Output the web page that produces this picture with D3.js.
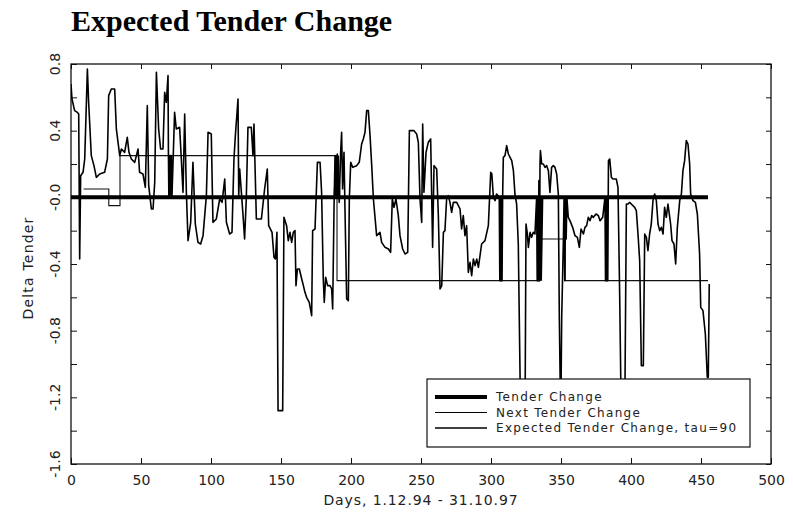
<!DOCTYPE html>
<html>
<head>
<meta charset="utf-8">
<script src="https://cdn.jsdelivr.net/npm/d3@7"></script>
<style>
body { margin: 0; background: #fff; }
text { font-family: "DejaVu Sans", sans-serif; fill: #222; }
</style>
</head>
<body>
<div id="chart"></div>
<script>
// values (days since 1.12.94)
const expDays = [
  0, 0.7, 2.6, 4.5, 5.5, 6.2, 6.9, 8.6, 9.8, 11.7, 12.6, 14.5, 16.4, 18.1, 20.5, 24.0, 26.0, 26.9, 28.8, 31.2,
  32.4, 33.6, 34.8, 36.0, 38.3, 40.2, 41.4, 43.1, 45.5, 47.9, 49.0, 51.4, 53.1, 54.5, 55.5, 57.4, 58.6, 59.8, 61.0, 62.6,
  64.0, 65.7, 66.9, 68.1, 69.3, 69.6, 69.9, 70.3, 70.6, 71.0, 71.3, 71.7, 72.1, 74.0, 75.2, 77.6, 78.8, 80.0, 81.2, 82.4,
  83.6, 85.5, 87.1, 88.8, 90.7, 92.6, 94.3, 96.7, 97.9, 100.2, 101.4, 103.8, 106.2, 107.9, 109.8, 111.0, 113.3, 115.0, 116.4, 117.4,
  119.3, 119.8, 120.5, 121.7, 122.9, 124.0, 125.2, 126.4, 128.8, 130.0, 130.7, 132.4, 136.0, 138.3, 140.2, 141.2, 143.6, 145.0, 146.0, 147.1,
  147.9, 151.2, 152.1, 154.0, 155.2, 156.4, 157.6, 158.8, 160.0, 160.7, 161.7, 163.1, 164.8, 166.0, 167.1, 168.3, 170.2, 171.9, 172.6, 174.3,
  176.0, 177.9, 179.0, 180.2, 180.9, 181.9, 183.3, 185.0, 186.2, 186.9, 187.9, 188.6, 189.3, 190.2, 190.9, 191.6, 192.6, 193.3, 194.0, 195.0,
  195.7, 196.9, 198.1, 198.8, 199.8, 201.2, 204.0, 205.9, 207.6, 208.8, 210.0, 211.2, 212.4, 213.6, 214.8, 216.0, 218.3, 220.7, 221.9, 224.3,
  226.7, 228.3, 229.5, 230.7, 232.1, 233.8, 235.0, 236.9, 238.6, 240.5, 241.7, 243.3, 245.0, 246.9, 248.1, 249.3, 250.5, 251.2, 252.1, 253.6,
  255.2, 256.9, 258.3, 259.3, 261.2, 262.4, 263.6, 264.8, 266.0, 267.1, 268.3, 269.5, 270.7, 271.9, 273.1, 275.5, 277.9, 279.0, 280.2, 281.4,
  282.6, 283.8, 285.0, 286.2, 287.4, 288.6, 289.8, 291.0, 293.3, 295.7, 298.1, 299.8, 300.6, 301.7, 302.9, 304.0, 305.9, 306.3, 306.7, 307.1,
  307.5, 307.9, 308.3, 308.8, 310.0, 311.2, 312.4, 313.6, 314.8, 316.0, 317.1, 318.3, 319.5, 321.2, 324.3, 325.0, 326.0, 326.7, 327.9, 329.0,
  330.2, 331.4, 332.6, 333.0, 333.4, 333.8, 334.2, 334.6, 335.0, 335.3, 336.2, 337.4, 338.6, 339.8, 341.0, 342.1, 343.3, 344.5, 345.7, 346.9,
  348.1, 348.8, 349.8, 350.5, 351.7, 352.2, 352.7, 353.2, 353.7, 354.2, 355.2, 356.4, 358.3, 360.0, 361.7, 363.1, 364.3, 366.0, 367.1, 368.3,
  369.5, 370.7, 371.9, 373.1, 375.0, 376.7, 377.9, 379.8, 381.4, 381.8, 382.2, 382.6, 383.0, 383.4, 383.9, 384.8, 386.0, 387.1, 389.5, 390.7,
  391.9, 393.1, 395.5, 396.7, 397.9, 399.0, 400.2, 402.6, 403.8, 405.0, 406.2, 407.4, 408.8, 409.8, 411.0, 412.1, 413.3, 414.5, 415.7, 416.9,
  418.1, 419.3, 420.5, 421.7, 422.9, 424.0, 425.2, 426.4, 428.3, 429.3, 430.7, 431.9, 433.1, 434.8, 436.0, 437.1, 438.3, 439.5, 440.7, 441.9,
  442.6, 444.3, 446.0, 447.4, 449.0, 449.8, 451.4, 453.1, 454.5, 455.2, 455.9
];
const expValues = [
  0.68, 0.59, 0.52, 0.51, 0.50, -0.37, 0.13, 0.15, 0.23, 0.77, 0.57, 0.25, 0.19, 0.12, 0.14, 0.15, 0.23, 0.61, 0.65, 0.65,
  0.41, 0.33, 0.25, 0.29, 0.27, 0.36, 0.27, 0.23, 0.21, 0.29, 0.15, 0.14, 0.06, 0.55, 0.07, -0.07, -0.07, 0.09, 0.75, 0.41,
  0.29, 0.29, 0.63, 0.57, 0.73, 0.25, 0.0, 0.25, 0.0, 0.25, 0.0, 0.25, 0.0, 0.51, 0.41, 0.42, 0.23, 0.03, 0.50, 0.03,
  -0.26, -0.15, 0.21, -0.16, -0.27, -0.28, -0.23, 0.01, 0.39, 0.38, -0.15, -0.13, -0.01, -0.03, 0.11, -0.15, -0.22, -0.21, 0.23, 0.37,
  0.59, 0.01, 0.17, 0.03, -0.11, -0.25, -0.01, 0.42, 0.42, 0.25, 0.44, -0.13, -0.13, 0.05, 0.17, -0.17, -0.21, -0.36, -0.37, -0.21,
  -1.28, -1.28, -0.12, -0.17, -0.26, -0.21, -0.27, -0.21, -0.20, -0.53, -0.43, -0.43, -0.49, -0.53, -0.57, -0.60, -0.63, -0.71, -0.20, -0.19,
  0.21, 0.21, 0.03, -0.49, -0.63, -0.48, -0.53, -0.53, -0.55, -0.67, -0.05, 0.25, 0.05, 0.26, 0.07, -0.03, 0.27, 0.39, 0.05, 0.27,
  -0.07, -0.61, -0.62, -0.01, 0.21, 0.18, 0.19, 0.21, 0.32, 0.35, 0.39, 0.52, 0.52, 0.37, 0.19, -0.01, -0.23, -0.21, -0.27, -0.30,
  -0.31, -0.33, -0.01, -0.06, -0.01, -0.11, -0.23, -0.31, -0.34, -0.33, 0.40, 0.40, 0.40, 0.38, 0.33, -0.01, -0.15, 0.44, 0.03, 0.27,
  0.33, 0.35, -0.30, 0.19, 0.17, -0.11, -0.55, -0.53, -0.21, -0.20, -0.01, 0.01, -0.03, -0.09, -0.03, -0.03, -0.07, -0.19, -0.11, -0.23,
  -0.17, -0.45, -0.39, -0.47, -0.37, -0.41, -0.37, -0.42, -0.28, -0.26, -0.17, 0.15, 0.14, 0.0, -0.02, 0.02, 0.0, -0.5, 0.0, -0.5,
  0.0, -0.5, 0.0, 0.24, 0.25, 0.31, 0.26, 0.24, 0.22, 0.16, 0.02, -0.04, -0.28, -1.35, -1.35, -0.16, -0.22, -0.30, -0.21, -0.24,
  -0.21, -0.22, 0.0, -0.5, 0.0, -0.5, 0.1, -0.5, 0.2, 0.28, 0.20, 0.20, 0.18, 0.19, 0.16, 0.03, 0.18, 0.19, 0.18, 0.14,
  0.02, -0.72, -1.35, -0.72, -0.26, 0.0, -0.5, 0.0, -0.25, 0.0, -0.12, -0.14, -0.18, -0.23, -0.24, -0.30, -0.19, -0.22, -0.18, -0.17,
  -0.12, -0.14, -0.11, -0.12, -0.10, -0.11, -0.14, -0.12, 0.0, -0.5, 0.0, -0.5, 0.0, -0.5, 0.22, 0.23, 0.12, 0.11, 0.11, 0.06,
  -0.58, -1.35, -1.35, -0.04, -0.04, -0.03, -0.04, -0.06, -0.08, -0.22, -0.38, -1.01, -1.01, -0.22, -0.24, -0.32, -0.22, -0.16, -0.02, 0.02,
  -0.02, -0.16, -0.20, -0.18, -0.22, -0.06, -0.12, -0.04, -0.16, -0.26, -0.28, -0.40, -0.18, -0.02, 0.02, 0.16, 0.22, 0.34, 0.32, 0.20,
  0.02, -0.02, -0.03, -0.10, -0.34, -0.66, -0.68, -0.82, -1.08, -1.08, -0.52
];
const nextDays = [9, 27, 35, 190, 335, 353, 455];
const nextValues = [0.05, -0.05, 0.25, -0.5, -0.25, -0.5, -0.5];
const tenderDays = [0, 189, 190, 191, 334, 335, 336, 455];
const tenderValues = [0, 0, 0.25, 0, 0, -0.5, 0, 0];

const xTicks = [0, 50, 100, 150, 200, 250, 300, 350, 400, 450, 500];
const yTicks = [-1.6, -1.4, -1.2, -1.0, -0.8, -0.6, -0.4, -0.2, 0, 0.2, 0.4, 0.6, 0.8];
const yLabelValues = [-1.6, -1.2, -0.8, -0.4, 0, 0.4, 0.8];
const yLabelText = ["-1.6", "-1.2", "-0.8", "-0.4", "-0.0", "0.4", "0.8"];
const seriesNames = ["Tender Change", "Next Tender Change", "Expected Tender Change, tau=90"];

const margin = {top: 64, right: 22, bottom: 64, left: 71},
    width = 793 - margin.left - margin.right,
    height = 528 - margin.top - margin.bottom;

const root = d3.select("#chart").append("svg")
    .attr("width", 793)
    .attr("height", 528);

root.append("text")
    .attr("x", 71).attr("y", 31)
    .style("font-family", "'Liberation Serif', 'Times New Roman', serif")
    .style("font-weight", "bold")
    .style("font-size", "30px")
    .style("fill", "#000")
    .text("Expected Tender Change");

const svg = root.append("g")
    .attr("transform", `translate(${margin.left}, ${margin.top})`);

const x = d3.scaleLinear().domain([0, 500]).range([0, width]);
const y = d3.scaleLinear().domain([-1.6, 0.8]).range([height, 0]);

function styleAxis(g) {
  g.select(".domain").remove();
  g.selectAll("line").attr("stroke", "#111").attr("stroke-width", 1);
  g.attr("font-family", null).attr("font-size", null);
}

// axes, ticks pointing inward
svg.append("g")
    .attr("transform", `translate(0,${height})`)
    .call(d3.axisBottom(x).tickValues(xTicks).tickSize(-6).tickPadding(11).tickFormat(d => String(d)))
    .call(styleAxis)
    .selectAll("text").style("font-size", "14px");

svg.append("g")
    .call(d3.axisTop(x).tickValues(xTicks).tickSize(-5).tickFormat(""))
    .call(styleAxis);

svg.append("g")
    .call(d3.axisLeft(y).tickValues(yTicks).tickSize(-6).tickFormat(""))
    .call(styleAxis);

svg.append("g")
    .attr("transform", `translate(${width},0)`)
    .call(d3.axisRight(y).tickValues(yTicks).tickSize(-5).tickFormat(""))
    .call(styleAxis);

// rotated y labels
svg.append("g").selectAll("text")
    .data(yLabelValues)
    .join("text")
    .attr("transform", d => `translate(-11,${y(d)}) rotate(-90)`)
    .attr("text-anchor", "middle")
    .style("font-size", "14px")
    .text((d, i) => yLabelText[i]);

svg.append("rect")
    .attr("width", width).attr("height", height)
    .attr("fill", "none").attr("stroke", "#111").attr("stroke-width", 1.3);

svg.append("text")
    .attr("x", width / 2).attr("y", height + 41)
    .attr("text-anchor", "middle")
    .style("font-size", "14px")
    .style("letter-spacing", "0.9px")
    .text("Days, 1.12.94 - 31.10.97");

svg.append("text")
    .attr("transform", `translate(-38,${height / 2 + 4}) rotate(-90)`)
    .attr("text-anchor", "middle")
    .style("font-size", "14px")
    .style("letter-spacing", "1.2px")
    .text("Delta Tender");

// lines
const clip = svg.append("clipPath").attr("id", "plotclip")
    .append("rect").attr("width", width).attr("height", height);

const line = d3.line().x(d => x(d[0])).y(d => y(d[1]));
const stepLine = d3.line().x(d => x(d[0])).y(d => y(d[1])).curve(d3.curveStepAfter);

const plot = svg.append("g").attr("clip-path", "url(#plotclip)");

plot.append("path")
    .datum(nextDays.map((d, i) => [d, nextValues[i]]))
    .attr("fill", "none").attr("stroke", "#111").attr("stroke-width", 1.1)
    .attr("d", stepLine);

plot.append("path")
    .datum(expDays.map((d, i) => [d, expValues[i]]))
    .attr("fill", "none").attr("stroke", "#000").attr("stroke-width", 1.6)
    .attr("stroke-linejoin", "round")
    .attr("d", line);

plot.append("path")
    .datum(tenderDays.map((d, i) => [d, tenderValues[i]]))
    .attr("fill", "none").attr("stroke", "#000").attr("stroke-width", 4)
    .attr("d", line);

// legend
const legend = svg.append("g").attr("transform", `translate(356,315)`);
legend.append("rect")
    .attr("width", 323).attr("height", 68)
    .attr("fill", "#fff").attr("stroke", "#111").attr("stroke-width", 1.2);

const legendWidths = [4, 1.1, 1.6];
const legendRows = legend.selectAll("g.row")
    .data(seriesNames)
    .join("g")
    .attr("class", "row")
    .attr("transform", (d, i) => `translate(0,${18 + i * 15.5})`);

legendRows.append("line")
    .attr("x1", 8).attr("x2", 60)
    .attr("stroke", "#000")
    .attr("stroke-width", (d, i) => legendWidths[i]);

legendRows.append("text")
    .attr("x", 69).attr("dy", "0.35em")
    .style("font-size", "12px")
    .style("letter-spacing", "1.3px")
    .text(d => d);
</script>
</body>
</html>
